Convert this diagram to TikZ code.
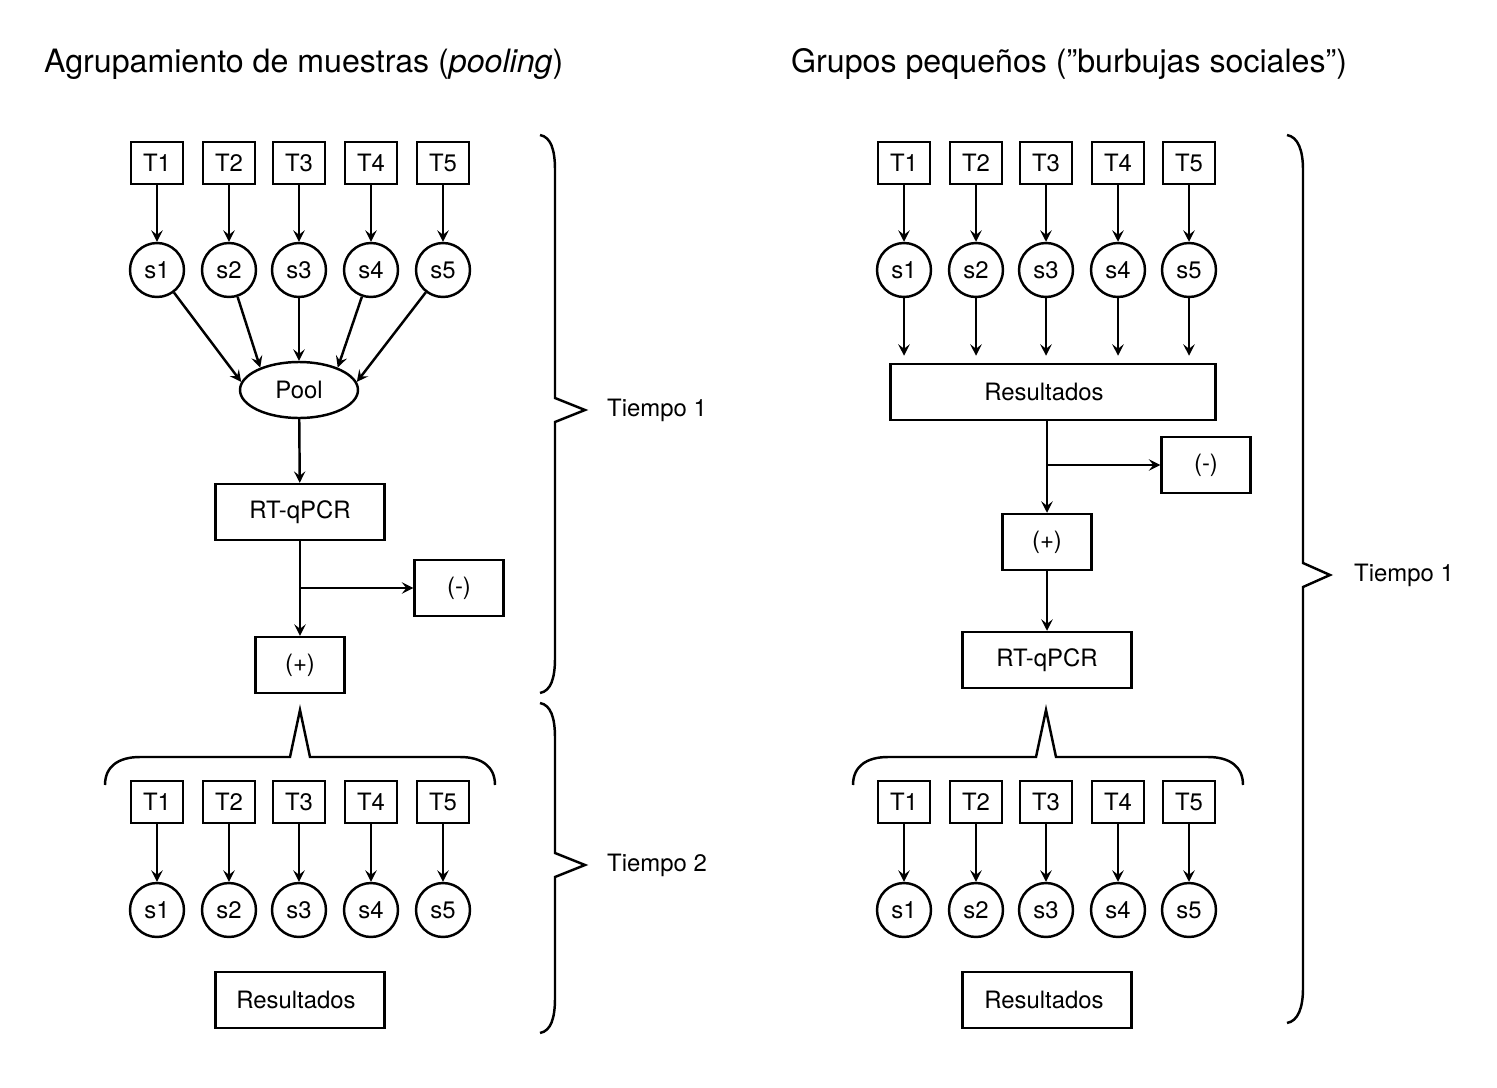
\documentclass[tikz,border=0pt]{standalone}
\usepackage{fontspec}
\setmainfont{TeX Gyre Heros}
\usetikzlibrary{arrows.meta,shapes.geometric}
\begin{document}
\begin{tikzpicture}[x=0.02cm,y=-0.02cm,
  every node/.style={font=\fontsize{13.6}{16}\selectfont},
  box/.style={draw,line width=1.4pt,inner sep=0pt,minimum width=#1,minimum height=1.12cm},
  box/.default=1.78cm,
  tbox/.style={draw,line width=1.4pt,inner sep=0pt,minimum width=1.04cm,minimum height=0.84cm},
  samp/.style={draw,circle,line width=1.4pt,inner sep=0pt,minimum size=1.08cm},
  arr/.style={line width=1.4pt,-{Stealth[length=6.5pt,width=6.5pt,inset=2.5pt]}},
  brace/.style={line width=1.4pt,line join=miter},
  title/.style={font=\fontsize{18.3}{22}\selectfont,anchor=base west}]
\useasboundingbox (0,0) rectangle (1497,1088);

\node[title] (tl) at (38,72) {Agrupamiento de muestras (\textit{pooling})};
\node[title] (tr) at (785,72) {Grupos pequeños (”burbujas sociales”)};

% ---------- left panel ----------
\foreach \i/\x in {1/157,2/229,3/299,4/371,5/443} {
  \node[tbox] (aT\i) at (\x,163) {T\i};
  \node[samp] (as\i) at (\x,270) {s\i};
  \draw[arr] (aT\i) -- (as\i);
  \node[tbox] (bT\i) at (\x,802) {T\i};
  \node[samp] (bs\i) at (\x,910) {s\i};
  \draw[arr] (bT\i) -- (bs\i);
}
\node[draw,ellipse,line width=1.4pt,minimum width=2.36cm,minimum height=1.12cm,inner sep=0pt] (pool) at (299,390) {Pool};
\draw[arr] (as1) -- (pool.172);
\draw[arr] (as2) -- (pool.150);
\draw[arr] (as3) -- (pool.north);
\draw[arr] (as4) -- (pool.30);
\draw[arr] (as5) -- (pool.8);
\node[box=3.38cm] (arq) at (300,512) {RT-qPCR};
\draw[arr] (pool) -- (arq);
\node[box] (aminus) at (459,588) {(-)};
\node[box] (aplus) at (300,665) {(+)};
\draw[arr] (arq) -- (aplus);
\draw[arr] (arq.south |- aminus.west) -- (aminus.west);
\coordinate (apk) at (300,710);
\draw[brace] (105,785) .. controls (105,766) and (119,757) .. (140,757) -- (290,757) -- (apk) -- (310,757) -- (460,757) .. controls (481,757) and (495,766) .. (495,785);
\node[box=3.38cm] (ares) at (300,1000) {};
\node (arestxt) at (296,1000) {Resultados};

% time braces left
\draw[brace] (540,135) .. controls (551,137) and (555,150) .. (555,170) -- (555,398) -- (585,410) -- (555,422) -- (555,658) .. controls (555,678) and (551,691) .. (540,693);
\node[anchor=west] (t1) at (601,410) {Tiempo 1};
\draw[brace] (540,703) .. controls (551,705) and (555,718) .. (555,738) -- (555,853) -- (585,865) -- (555,877) -- (555,998) .. controls (555,1018) and (551,1031) .. (540,1033);
\node[anchor=west] (t2) at (601,865) {Tiempo 2};

% ---------- right panel ----------
\node[box=6.5cm] (cres) at (1053,392) {};
\node (crestxt) at (1044,392) {Resultados};
\foreach \i/\x in {1/904,2/976,3/1046,4/1118,5/1189} {
  \node[tbox] (cT\i) at (\x,163) {T\i};
  \node[samp] (cs\i) at (\x,270) {s\i};
  \draw[arr] (cT\i) -- (cs\i);
  \draw[arr,shorten >=4pt] (cs\i) -- (cs\i |- cres.north);
  \node[tbox] (dT\i) at (\x,802) {T\i};
  \node[samp] (ds\i) at (\x,910) {s\i};
  \draw[arr] (dT\i) -- (ds\i);
}
\node[box] (cplus) at (1047,542) {(+)};
\node[box] (cminus) at (1206,465) {(-)};
\draw[arr] (cres.south -| cplus.north) -- (cplus.north);
\draw[arr] (cplus.north |- cminus.west) -- (cminus.west);
\node[box=3.38cm] (crq) at (1047,660) {RT-qPCR};
\draw[arr] (cplus) -- (crq);
\coordinate (cpk) at (1046,710);
\draw[brace] (853,785) .. controls (853,766) and (867,757) .. (888,757) -- (1036,757) -- (cpk) -- (1056,757) -- (1208,757) .. controls (1229,757) and (1243,766) .. (1243,785);
\node[box=3.38cm] (dres) at (1047,1000) {};
\node (drestxt) at (1044,1000) {Resultados};

\draw[brace] (1287,135) .. controls (1298,137) and (1303,150) .. (1303,170) -- (1303,563) -- (1330,575) -- (1303,587) -- (1303,988) .. controls (1303,1008) and (1298,1021) .. (1287,1023);
\node[anchor=west] (t3) at (1348,575) {Tiempo 1};
\end{tikzpicture}
\end{document}
